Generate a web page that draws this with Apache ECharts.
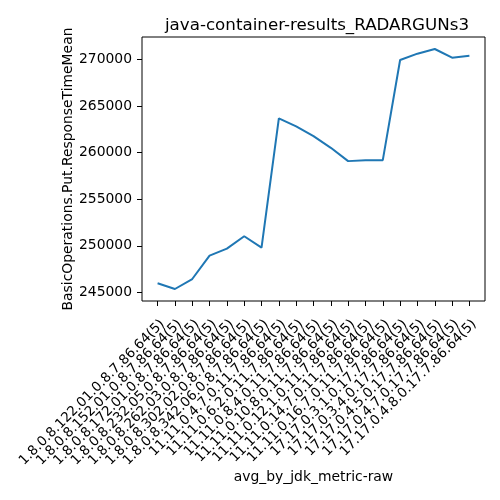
<!DOCTYPE html>
<html>
<head>
<meta charset="utf-8">
<script src="https://cdn.jsdelivr.net/npm/echarts@6/dist/echarts.min.js"></script>
<style>html,body{margin:0;padding:0;background:#fff}#c{width:500px;height:500px}</style>
</head>
<body>
<div id="c"></div>
<script>
const categories = [
  "1.8.0.8.122.01.0.8.7.86.64(5)",
  "1.8.0.8.152.01.0.8.7.86.64(5)",
  "1.8.0.8.172.01.0.8.7.86.64(5)",
  "1.8.0.8.232.05.0.8.7.86.64(5)",
  "1.8.0.8.262.03.0.8.7.86.64(5)",
  "1.8.0.8.302.02.0.8.7.86.64(5)",
  "1.8.0.8.342.06.0.8.7.86.64(5)",
  "11.11.0.4.7.0.11.7.86.64(5)",
  "11.11.0.6.2.0.11.7.86.64(5)",
  "11.11.0.8.4.0.11.7.86.64(5)",
  "11.11.0.10.8.0.11.7.86.64(5)",
  "11.11.0.12.1.0.11.7.86.64(5)",
  "11.11.0.14.7.0.11.7.86.64(5)",
  "11.11.0.16.7.0.11.7.86.64(5)",
  "17.17.0.3.1.0.17.7.86.64(5)",
  "17.17.0.3.4.0.17.7.86.64(5)",
  "17.17.0.4.5.0.17.7.86.64(5)",
  "17.17.0.4.7.0.17.7.86.64(5)",
  "17.17.0.4.8.0.17.7.86.64(5)"
];
const values = [245970, 245360, 246430, 248940, 249690, 251020, 249800, 263660, 262800, 261760, 260510, 259080, 259180, 259180, 269930, 270610, 271110, 270180, 270390];
const yTicks = [245000, 250000, 255000, 260000, 265000, 270000];
const titleText = "java-container-results_RADARGUNs3";
const xName = "avg_by_jdk_metric-raw";
const yName = "BasicOperations.Put.ResponseTimeMean";

const yMin = Math.min(...values), yMax = Math.max(...values);
const yPad = (yMax - yMin) * 0.05;
const font = "DejaVu Sans";

// frame grid and inner (data) grid with matplotlib-like 5% x margins
const G = {left: 142, right: 15, top: 37, bottom: 199};
const frameW = 500 - G.left - G.right;
const xPad = frameW * 0.05 / 1.1;

const chart = echarts.init(document.getElementById('c'), null, {renderer: 'canvas'});
chart.setOption({
  animation: false,
  backgroundColor: '#fff',
  title: {
    text: titleText, left: 312, top: 12, textAlign: 'center',
    textStyle: {fontFamily: font, fontSize: 16.7, fontWeight: 'normal', color: '#000'}
  },
  grid: [
    {left: G.left, right: G.right, top: G.top, bottom: G.bottom, show: true, borderColor: '#000', borderWidth: 1, backgroundColor: 'transparent'},
    {left: G.left + xPad, right: G.right + xPad, top: G.top, bottom: G.bottom}
  ],
  xAxis: [
    {type: 'value', gridIndex: 0, show: false, min: 0, max: 1},
    {
      type: 'category', gridIndex: 1, data: categories, boundaryGap: false,
      name: xName, nameLocation: 'middle', nameGap: 169, nameMoveOverlap: false,
      nameTextStyle: {fontFamily: font, fontSize: 13.9, color: '#000'},
      axisLine: {show: false},
      axisTick: {show: true, length: 5, interval: 0, lineStyle: {color: '#000'}},
      splitLine: {show: false},
      axisLabel: {interval: 0, rotate: 45, margin: 26, padding: [0, -7, 0, 0], fontFamily: font, fontSize: 13.5, color: '#000'}
    }
  ],
  yAxis: [
    {
      type: 'value', gridIndex: 0, min: yMin - yPad, max: yMax + yPad,
      name: yName, nameLocation: 'middle', nameGap: 67, nameMoveOverlap: false,
      nameTextStyle: {fontFamily: font, fontSize: 13.9, color: '#000'},
      axisLine: {show: false},
      axisTick: {show: true, length: 5, customValues: yTicks, lineStyle: {color: '#000'}},
      splitLine: {show: false},
      axisLabel: {customValues: yTicks, margin: 10, fontFamily: font, fontSize: 13.9, color: '#000', formatter: v => String(v)}
    },
    {type: 'value', gridIndex: 1, show: false, min: yMin - yPad, max: yMax + yPad, splitLine: {show: false}}
  ],
  series: [{
    type: 'line', xAxisIndex: 1, yAxisIndex: 1, data: values, symbol: 'none',
    lineStyle: {color: '#1f77b4', width: 2}, itemStyle: {color: '#1f77b4'}
  }]
});
</script>
</body>
</html>
